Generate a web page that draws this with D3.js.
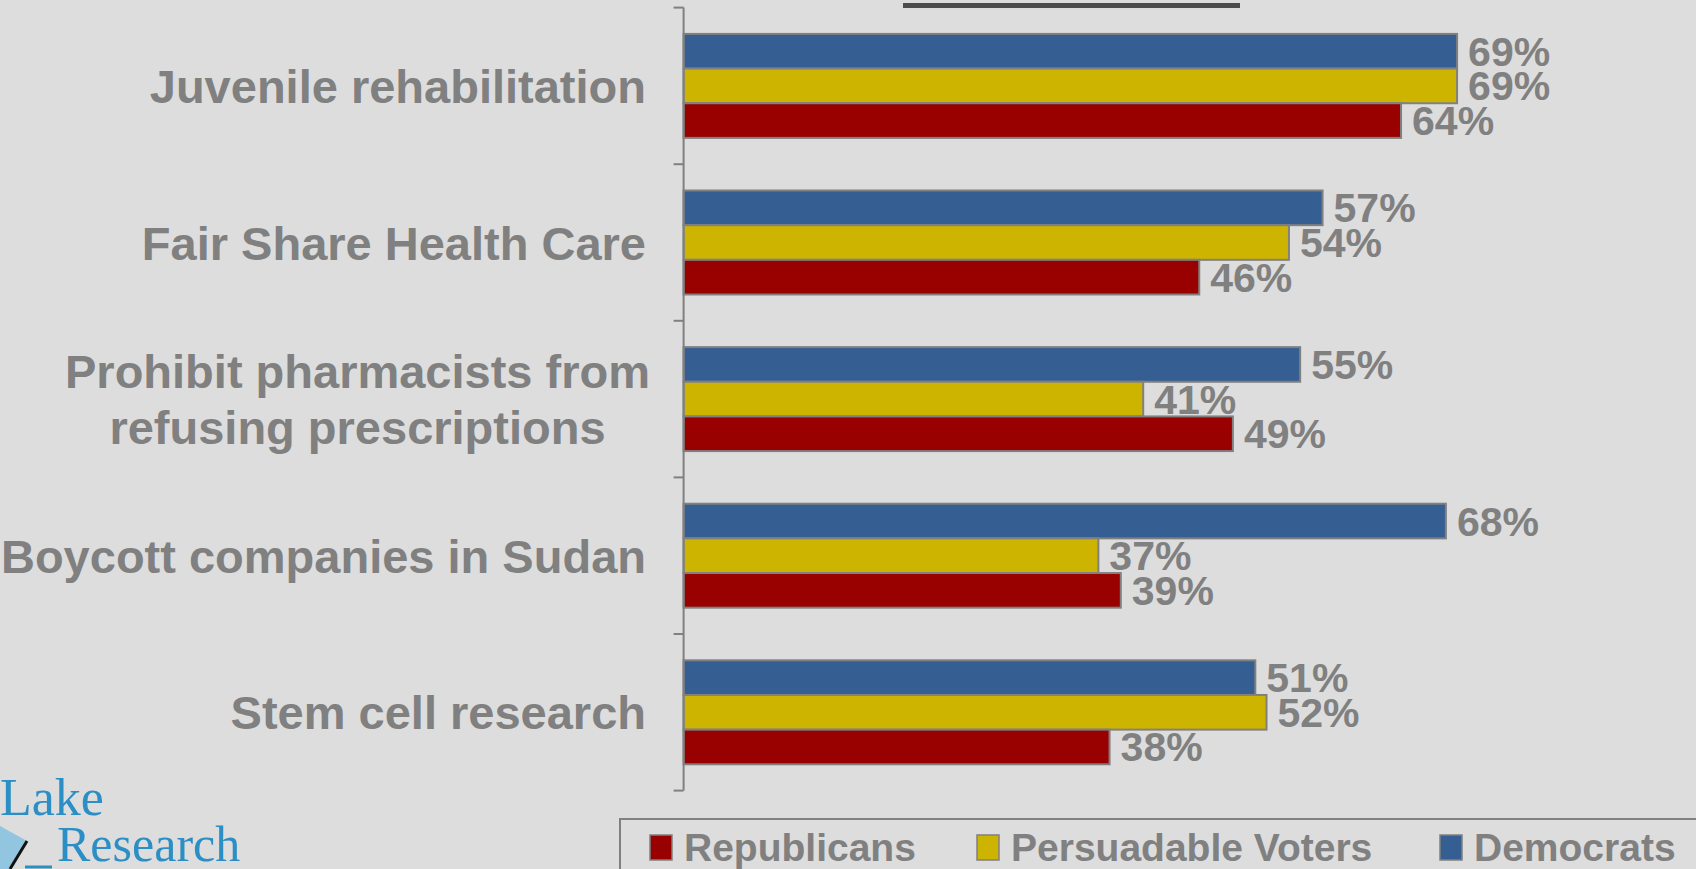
<!DOCTYPE html>
<html>
<head>
<meta charset="utf-8">
<script src="https://cdn.jsdelivr.net/npm/d3@7"></script>
<style>
  html, body { margin: 0; padding: 0; background: #dddddd; overflow: hidden; }
  svg { display: block; }
</style>
</head>
<body>
<svg id="chart" width="1696" height="869"></svg>
<script>
// ---- Data ----
const categories = [
  ["Juvenile rehabilitation"],
  ["Fair Share Health Care"],
  ["Prohibit pharmacists from", "refusing prescriptions"],
  ["Boycott companies in Sudan"],
  ["Stem cell research"]
];
const seriesNames = ["Democrats", "Persuadable Voters", "Republicans"];
const democrats   = [69, 57, 55, 68, 51];
const persuadable = [69, 54, 41, 37, 52];
const republicans = [64, 46, 49, 39, 38];
const legendOrder = ["Republicans", "Persuadable Voters", "Democrats"];
const seriesColors = { "Democrats": "#355e93", "Persuadable Voters": "#cdb400", "Republicans": "#990000" };

const values = { "Democrats": democrats, "Persuadable Voters": persuadable, "Republicans": republicans };

const svg = d3.select("#chart");
const grey = "#808080";
const font = "'Liberation Sans', Arial, sans-serif";

// background
svg.append("rect").attr("width", 1696).attr("height", 869).attr("fill", "#dddddd");

// title underline remnant
svg.append("rect").attr("x", 903).attr("y", 3).attr("width", 337).attr("height", 5).attr("fill", "#4d4d4d");

// ---- Scales ----
const axisX = 683.6;
const x = d3.scaleLinear().domain([0, 100]).range([axisX, axisX + 1121]);
const catIdx = d3.range(categories.length);
const y0 = d3.scaleBand().domain(catIdx).range([7.6, 790.6]).paddingInner(0.336).paddingOuter(0.168);
const y1 = d3.scaleBand().domain(seriesNames).range([0, y0.bandwidth()]);

// ---- Bars ----
const groups = svg.append("g").selectAll("g").data(catIdx).join("g")
  .attr("transform", i => `translate(0,${y0(i)})`);

groups.selectAll("rect").data(i => seriesNames.map(s => ({ s, v: values[s][i] }))).join("rect")
  .attr("x", x(0))
  .attr("y", d => y1(d.s))
  .attr("width", d => x(d.v) - x(0))
  .attr("height", y1.bandwidth())
  .attr("fill", d => seriesColors[d.s])
  .attr("stroke", grey)
  .attr("stroke-width", 2);

groups.selectAll("text.val").data(i => seriesNames.map(s => ({ s, v: values[s][i] }))).join("text")
  .attr("class", "val")
  .attr("x", d => x(d.v) + 11)
  .attr("y", d => y1(d.s) + y1.bandwidth() / 2 + 14.5)
  .attr("font-family", font)
  .attr("font-weight", "bold")
  .attr("font-size", 41)
  .attr("fill", grey)
  .text(d => d.v + "%");

// ---- Axis ----
const axisG = svg.append("g").attr("stroke", grey).attr("stroke-width", 2);
axisG.append("line").attr("x1", axisX).attr("x2", axisX).attr("y1", 7.6).attr("y2", 790.6);
const tickYs = d3.range(categories.length + 1).map(k => 7.6 + k * y0.step());
axisG.selectAll("line.tick").data(tickYs).join("line").attr("class", "tick")
  .attr("x1", axisX - 10).attr("x2", axisX).attr("y1", d => d).attr("y2", d => d);

// ---- Category labels ----
const lineH = 56;
catIdx.forEach(i => {
  const lines = categories[i];
  const cy = y0(i) + y0.bandwidth() / 2;
  const g = svg.append("g");
  const texts = lines.map((ln, j) => g.append("text")
    .attr("font-family", font).attr("font-weight", "bold").attr("font-size", 47)
    .attr("fill", grey)
    .attr("y", cy + 17 + (j - (lines.length - 1) / 2) * lineH)
    .text(ln));
  const widths = texts.map(t => t.node().getComputedTextLength());
  const maxW = d3.max(widths);
  const right = lines.length > 1 ? 650 : 646;
  const center = right - maxW / 2;
  texts.forEach(t => t.attr("x", center).attr("text-anchor", "middle"));
});

// ---- Legend ----
svg.append("rect").attr("x", 620).attr("y", 819).attr("width", 1200).attr("height", 120)
  .attr("fill", "none").attr("stroke", grey).attr("stroke-width", 2);
const legendX = [650, 977, 1440];
const lg = svg.append("g").selectAll("g").data(legendOrder).join("g")
  .attr("transform", (d, i) => `translate(${legendX[i]},835)`);
lg.append("rect").attr("width", 22).attr("height", 25)
  .attr("fill", d => seriesColors[d]).attr("stroke", grey).attr("stroke-width", 1.5);
lg.append("text").attr("x", 34).attr("y", 26)
  .attr("font-family", font).attr("font-weight", "bold").attr("font-size", 39)
  .attr("fill", grey).text(d => d);

// ---- Logo ----
const logo = svg.append("g");
logo.append("polygon").attr("points", "0,826 27,841 9,869 0,869").attr("fill", "#92c5e0");
logo.append("line").attr("x1", 27).attr("y1", 841).attr("x2", 10).attr("y2", 869)
  .attr("stroke", "#111").attr("stroke-width", 3);
logo.append("line").attr("x1", 25).attr("y1", 867).attr("x2", 52).attr("y2", 867)
  .attr("stroke", "#2b8fc5").attr("stroke-width", 3);
logo.append("text").attr("x", 0).attr("y", 815)
  .attr("font-family", "'Liberation Serif', 'Times New Roman', serif").attr("font-size", 52)
  .attr("fill", "#2b8fc5").text("Lake");
logo.append("text").attr("x", 57).attr("y", 861)
  .attr("font-family", "'Liberation Serif', 'Times New Roman', serif").attr("font-size", 50)
  .attr("fill", "#2b8fc5").text("Research");
</script>
</body>
</html>
